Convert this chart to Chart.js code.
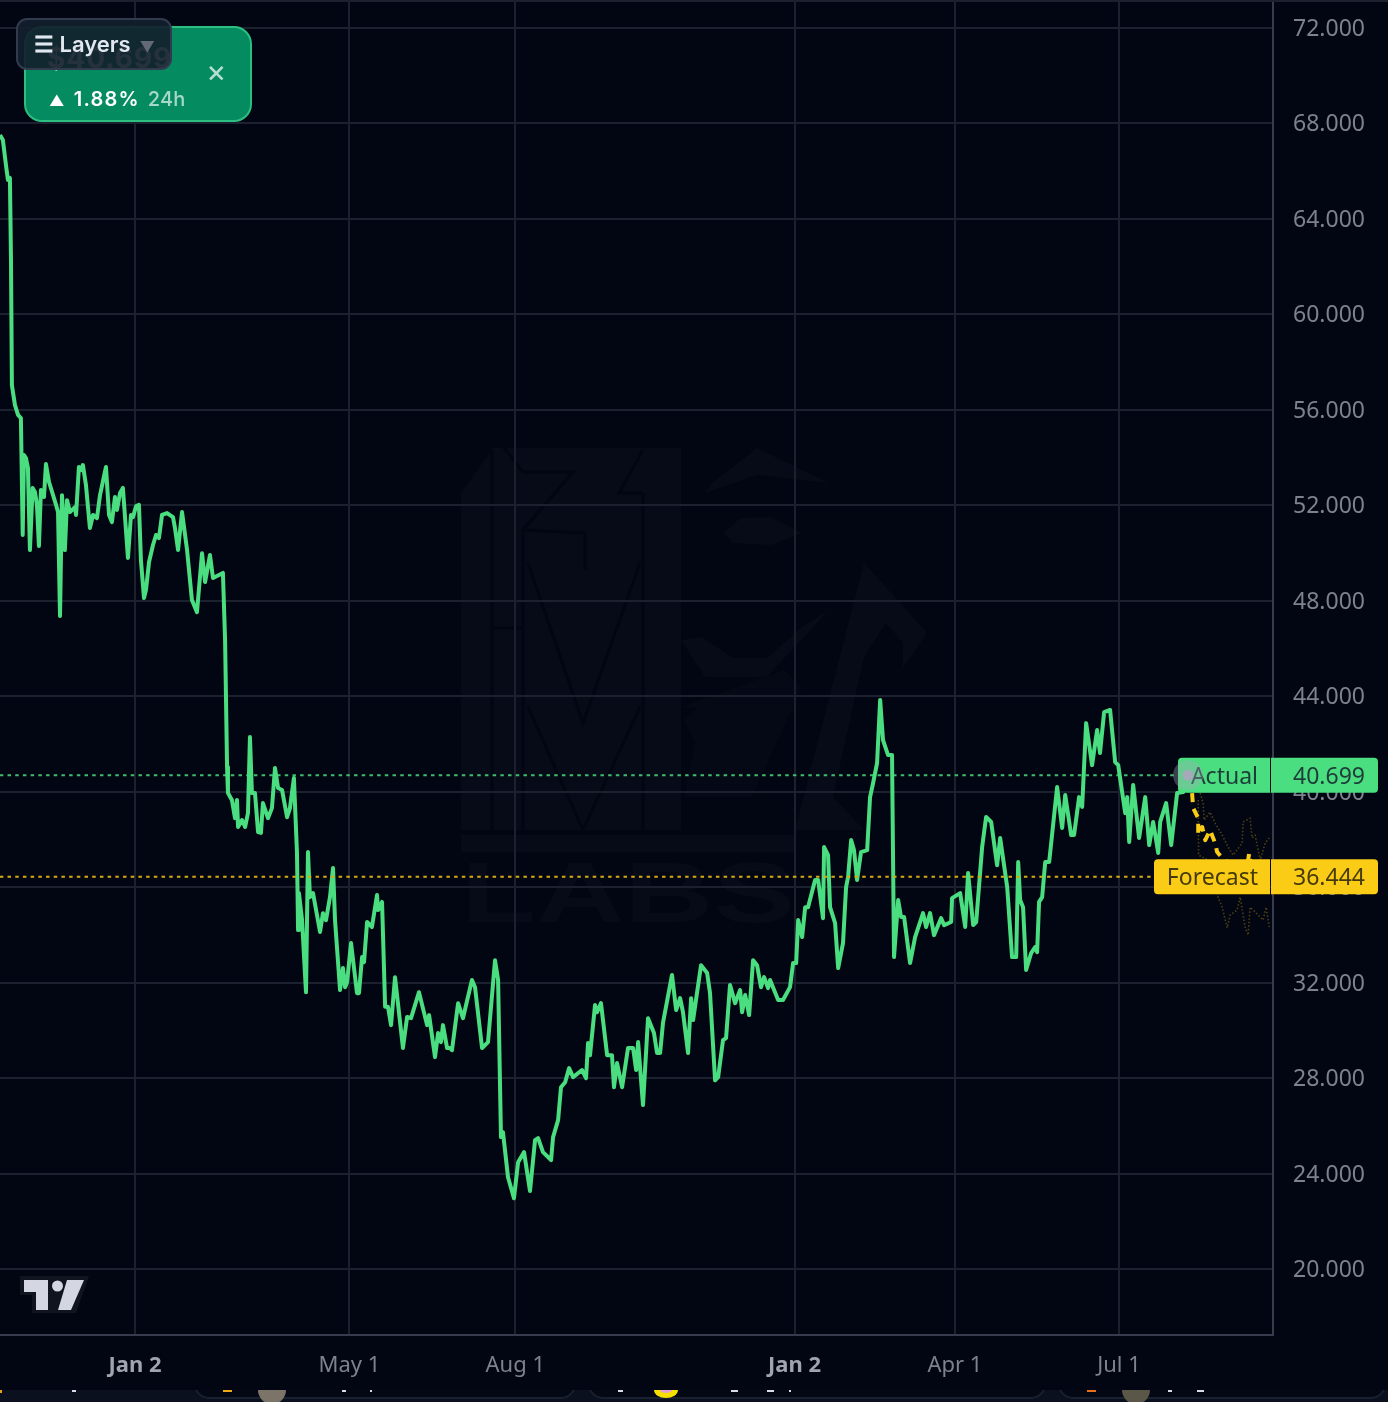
<!DOCTYPE html>
<html>
<head>
<meta charset="utf-8">
<title>Price chart</title>
<script src="https://cdn.jsdelivr.net/npm/chart.js@4/dist/chart.umd.min.js"></script>
<style>
  html, body { margin: 0; padding: 0; background: #020612; }
  body { position: relative; width: 1388px; height: 1402px; overflow: hidden; font-family: Inter, sans-serif; }
  #watermark, #bottomStrip, #tvLogo, canvas { position: absolute; left: 0; top: 0; }
  canvas { filter: blur(0.5px); }
  #topLine { position: absolute; left: 0; top: 0; width: 1388px; height: 2px; background: #1c2130; }
  #priceCard { position: absolute; left: 24px; top: 26px; width: 228px; height: 96px; box-sizing: border-box;
    background: #048c60; border: 2px solid #2dbe82; border-radius: 18px; }
  #cardPrice { position: absolute; left: 47px; top: 41px; font-size: 28px; font-weight: 700; color: #fff; letter-spacing: 1px; }
  #cardChange { position: absolute; left: 49px; top: 87px; font-size: 20px; font-weight: 600; color: #fff; letter-spacing: 1.2px; white-space: nowrap; }
  #cardChange .arrow { font-size: 15px; margin-right: 8px; }
  #cardChange .period { font-weight: 500; letter-spacing: 0.2px; color: rgba(255,255,255,.65); margin-left: 8px; }
  #cardClose { position: absolute; left: 206px; top: 54px; font-size: 31px; line-height: 34px; color: rgba(255,255,255,.72); }
  #layers { position: absolute; left: 16px; top: 18px; width: 156px; height: 52px; box-sizing: border-box;
    background: rgba(18,32,44,.92); border: 2px solid #323a4e; border-radius: 11px;
    color: #e2e8f0; font-size: 22px; font-weight: 600; line-height: 49px; padding-left: 16px; white-space: nowrap; }
  #layers .caret { color: #646978; font-size: 15px; margin-left: 5px; }
</style>
</head>
<body>
<svg id="watermark" width="1388" height="1402">
  <g fill="#070b17">
    <polygon points="461,493 493,448 681,448 681,830 461,830"/>
    <polygon points="705,493 757,475 829,483 757,448 712,483"/>
    <polygon points="681,640 702,637 733,658 767,658 802,627 829,610 767,677 705,677"/>
    <polygon points="724,533 740,518 771,517 802,533 771,545 733,543"/>
    <polygon points="864,563 886,587 927,633 903,668 903,643 886,623 864,657 833,797 864,830 795,830"/>
    <polygon fill="#050915" points="681,707 698,707 684,720 695,743 684,797 752,797 802,687 784,670"/>
    <rect x="461" y="835" width="334" height="17"/>
    <text x="461" y="922" font-family="Liberation Sans" font-weight="700" font-size="86" textLength="334" lengthAdjust="spacingAndGlyphs">LABS</text>
  </g>
  <g fill="none" stroke="#020612" stroke-width="3">
    <polyline points="504,448 523,472 573,472 523,530 585,533 585,570"/>
    <polyline points="528,563 583,723 640,563"/>
    <polyline points="528,707 583,830 640,707"/>
    <polyline points="643,493 619,493 643,450"/>
    <polyline points="492,450 492,830"/>
    <polyline points="523,530 523,830"/>
    <polyline points="643,493 643,830"/>
    <polyline points="492,628 523,628"/>
  </g>
</svg>

<canvas id="chart" width="1388" height="1402"></canvas>

<div id="topLine"></div>
<div id="priceCard"></div>
<div id="cardPrice">$40.699</div>
<div id="cardChange"><span class="arrow">▲</span>1.88%<span class="period">24h</span></div>
<div id="cardClose">×</div>
<div id="layers">☰ Layers<span class="caret"> ▼</span></div>

<svg id="tvLogo" width="100" height="1320" style="pointer-events:none">
  <polygon fill="#10141f" points="20,1276 89,1276 76,1313 32,1313 32,1295 20,1295"/>
  <g fill="#d4d7e2">
    <polygon points="24,1280 48,1280 48,1310 36,1310 36,1292 24,1292"/>
    <ellipse cx="57.5" cy="1286" rx="5.5" ry="5.5"/>
    <polygon points="67,1280 84,1280 71,1310 58,1310"/>
  </g>
</svg>

<svg id="bottomStrip" width="1388" height="1402" style="pointer-events:none">
  <defs><clipPath id="stripClip"><rect x="0" y="1390" width="1388" height="12"/></clipPath></defs>
  <g clip-path="url(#stripClip)">
    <rect x="0" y="1390" width="1388" height="12" fill="#0a101e"/>
    <g fill="#030814" stroke="#192030" stroke-width="2">
      <rect x="195" y="1370" width="380" height="28" rx="14"/>
      <rect x="589" y="1370" width="456" height="28" rx="14"/>
      <rect x="1059" y="1370" width="326" height="28" rx="14"/>
    </g>
    <g fill="#d8dce6">
      <rect x="72" y="1390" width="4" height="2"/>
      <rect x="342" y="1390" width="4" height="2"/>
      <rect x="370" y="1390" width="2" height="2"/>
      <rect x="618" y="1390" width="5" height="2"/>
      <rect x="731" y="1390" width="7" height="2"/>
      <rect x="767" y="1390" width="7" height="2"/>
      <rect x="789" y="1390" width="2" height="2"/>
      <rect x="1168" y="1390" width="4" height="2"/>
      <rect x="1197" y="1390" width="7" height="2"/>
    </g>
    <rect x="0" y="1390" width="2" height="3" fill="#e8a310"/>
    <rect x="223" y="1390" width="9" height="2" fill="#f0a818"/>
    <rect x="1087" y="1390" width="9" height="2" fill="#e8701a"/>
    <path d="M258,1390 a14,14 0 0 0 28,0 z" fill="#7c7468"/>
    <path d="M1122,1390 a14,14 0 0 0 28,0 z" fill="#5a5648"/>
    <path d="M654,1390 a12,8 0 0 0 24,0 z" fill="#f5e000"/>
    <path d="M660,1390 a6,3 0 0 0 12,0 z" fill="#e8a0d0"/>
  </g>
</svg>

<script>
// Prices and dates. x is days after the first Jan 2 tick
const priceTicks = [20, 24, 28, 32, 36, 40, 44, 48, 52, 56, 60, 64, 68, 72];
const dateTickDays = [0, 119, 211, 366, 455, 546];
const dateTickLabels = ["Jan 2", "May 1", "Aug 1", "Jan 2", "Apr 1", "Jul 1"];

const actualDays = [
  -74.9, -73.3, -71.6, -70.5, -69.4, -68.8, -68.3, -66.6, -64.9, -63.3,
  -62.3, -61.6, -60.5, -59.4, -58.3, -56.8, -55.5, -54.4, -53.3, -52.2,
  -50.5, -49.4, -47.7, -43.8, -42.7, -41.6, -40.5, -38.9, -37.7, -36.1,
  -33.3, -32.7, -31.1, -30.0, -28.9, -27.2, -25.0, -23.3, -21.1, -19.4,
  -16.1, -14.4, -12.8, -11.1, -10.0, -8.3, -6.7, -3.9, -2.2, -1.1,
  0.6, 2.2, 3.3, 5.0, 6.1, 7.8, 10.0, 11.7, 13.3, 15.0,
  17.8, 21.1, 22.2, 23.9, 26.1, 28.9, 31.6, 34.4, 37.2, 38.9,
  41.6, 43.3, 48.8, 50.0, 51.1, 51.6, 53.8, 55.5, 56.6, 57.2,
  59.4, 61.1, 62.7, 63.8, 64.9, 66.6, 68.3, 69.9, 71.0, 73.8,
  76.0, 77.7, 79.4, 81.6, 84.4, 86.0, 88.2, 89.9, 90.5, 91.0,
  92.7, 94.9, 96.0, 97.1, 98.8, 102.7, 104.3, 106.0, 108.2, 109.9,
  111.0, 113.8, 115.4, 116.6, 117.7, 119.9, 123.2, 124.3, 126.0, 127.1,
  128.8, 131.5, 134.3, 134.9, 137.1, 138.8, 140.4, 142.1, 144.3, 148.7,
  151.0, 153.2, 157.6, 162.1, 163.2, 166.5, 168.2, 169.8, 170.9, 173.2,
  174.8, 175.9, 179.3, 182.0, 187.0, 188.7, 192.6, 195.9, 199.8, 201.5,
  203.1, 204.2, 207.0, 210.3, 212.6, 215.9, 219.2, 222.0, 223.7, 226.4,
  230.9, 232.0, 234.8, 236.4, 238.7, 240.9, 243.1, 248.1, 250.3, 251.4,
  252.5, 255.3, 256.4, 258.6, 262.0, 264.7, 265.8, 267.5, 270.3, 273.6,
  276.4, 278.1, 279.2, 281.9, 284.7, 288.0, 289.7, 291.4, 293.0, 298.0,
  300.3, 302.5, 304.1, 306.9, 308.6, 309.7, 314.1, 317.5, 319.1, 321.9,
  323.6, 326.3, 328.0, 330.2, 333.0, 335.8, 336.9, 338.6, 340.8, 343.0,
  345.2, 347.4, 349.1, 351.3, 352.4, 356.9, 359.6, 363.5, 365.2, 366.9,
  368.0, 370.2, 371.9, 373.5, 377.4, 379.1, 381.8, 382.4, 384.6, 385.7,
  388.5, 390.2, 392.9, 394.6, 395.7, 397.4, 399.0, 400.7, 402.9, 406.3,
  407.9, 409.6, 411.8, 413.5, 415.1, 417.9, 420.1, 421.2, 423.5, 425.1,
  426.8, 430.1, 432.9, 437.3, 439.0, 441.2, 443.4, 447.3, 449.0, 452.9,
  453.4, 457.9, 460.7, 462.3, 465.1, 466.8, 470.1, 472.3, 475.1, 478.4,
  480.1, 484.0, 486.7, 489.0, 490.1, 491.2, 492.8, 494.5, 497.3, 499.5,
  500.6, 501.7, 503.4, 505.1, 507.3, 511.7, 514.5, 516.2, 519.5, 521.1,
  523.9, 525.6, 527.8, 531.1, 533.9, 535.5, 537.8, 541.1, 543.9, 545.6,
  549.5, 550.6, 551.7, 553.9, 557.2, 560.6, 562.8, 565.0, 567.8, 568.9,
  572.2, 575.0, 578.3, 581.6, 584.4
];
const actualPrices = [
  67.52, 67.31, 66.26, 65.63, 65.72, 62.28, 57.04, 56.20, 55.79, 55.66,
  50.76, 54.11, 53.98, 53.57, 50.13, 52.73, 52.56, 52.02, 50.30, 52.64,
  52.35, 53.73, 52.98, 52.02, 51.72, 47.37, 52.43, 50.13, 52.22, 51.72,
  51.93, 51.60, 53.61, 53.48, 53.69, 52.85, 51.05, 51.60, 51.47, 52.43,
  53.61, 51.60, 51.30, 52.35, 51.81, 52.52, 52.73, 49.80, 51.60, 51.51,
  51.97, 52.02, 49.71, 48.12, 48.46, 49.63, 50.34, 50.76, 50.63, 51.60,
  51.68, 51.51, 51.05, 50.13, 51.72, 50.13, 48.04, 47.53, 50.00, 48.79,
  49.92, 48.96, 49.17, 46.36, 41.04, 39.95, 39.66, 38.90, 39.66, 38.53,
  38.82, 38.53, 39.11, 42.30, 39.95, 39.95, 38.32, 38.28, 39.53, 38.90,
  39.32, 41.00, 40.16, 40.08, 38.94, 39.32, 40.58, 37.44, 34.21, 35.76,
  34.63, 31.61, 37.48, 35.59, 35.76, 34.13, 34.92, 34.63, 35.59, 36.81,
  34.63, 31.70, 32.62, 31.82, 32.03, 33.67, 31.57, 31.57, 33.08, 32.87,
  34.55, 34.34, 35.68, 35.05, 35.39, 31.00, 31.00, 30.23, 32.24, 29.27,
  30.57, 30.52, 31.61, 30.23, 30.65, 28.89, 29.90, 29.52, 30.23, 29.27,
  29.27, 29.18, 31.15, 30.52, 32.12, 31.82, 29.27, 29.52, 32.95, 32.12,
  25.54, 25.75, 23.86, 22.98, 24.49, 24.91, 23.28, 25.41, 25.50, 24.91,
  24.58, 25.54, 26.25, 27.63, 27.84, 28.43, 28.05, 28.35, 28.01, 29.48,
  28.97, 31.07, 30.77, 31.15, 28.97, 28.97, 27.63, 28.64, 27.63, 29.27,
  29.27, 28.35, 29.52, 26.88, 30.52, 29.90, 29.06, 29.06, 30.32, 32.33,
  30.86, 31.36, 30.77, 29.06, 31.36, 30.44, 32.74, 32.41, 31.57, 27.92,
  28.05, 29.60, 29.69, 31.91, 31.15, 31.70, 30.77, 31.49, 30.65, 32.95,
  32.74, 31.82, 32.24, 31.78, 32.12, 31.28, 31.28, 31.82, 32.83, 32.83,
  34.63, 33.92, 35.17, 35.17, 36.31, 36.31, 34.71, 37.69, 37.35, 35.17,
  34.50, 32.62, 33.67, 36.01, 36.43, 37.98, 37.56, 36.31, 37.48, 37.56,
  39.78, 40.37, 41.21, 43.85, 42.17, 41.54, 41.54, 33.08, 35.47, 34.76,
  34.76, 32.83, 33.92, 34.92, 34.34, 34.92, 34.00, 34.71, 34.42, 34.55,
  35.55, 35.76, 34.34, 36.60, 34.42, 34.55, 37.69, 38.95, 38.74, 36.93,
  38.07, 36.01, 33.08, 33.08, 37.06, 35.47, 35.17, 32.54, 33.25, 33.50,
  33.29, 35.39, 35.59, 37.06, 37.06, 40.20, 38.49, 39.87, 38.19, 38.19,
  39.78, 39.37, 42.88, 41.12, 42.59, 41.63, 43.34, 43.43, 41.25, 41.12,
  39.11, 39.78, 37.90, 40.29, 38.07, 39.78, 37.77, 38.74, 37.44, 38.74,
  39.53, 37.77, 39.95, 39.99, 40.70
];

const forecastDays = [586.6, 587.2, 590.0, 590.0, 592.2, 593.9, 596.6, 599.4, 600.5, 603.3, 605.0, 610.5, 616.0, 618.3, 620.5, 625.5, 629.4];
const forecastPrices = [39.95, 39.32, 38.90, 38.19, 38.53, 37.98, 38.40, 37.85, 37.48, 37.23, 37.19, 36.39, 36.31, 37.44, 36.39, 36.31, 36.44];

// two of the faint dotted forecast runs behind the thick one
const upperRunDays = [591.1, 592.7, 593.3, 596.6, 599.4, 603.3, 606.6, 609.4, 614.4, 614.9, 618.8, 619.9, 621.6, 624.4, 627.2, 629.4];
const upperRunPrices = [39.95, 39.53, 38.82, 39.15, 38.69, 38.19, 37.69, 37.35, 37.86, 38.74, 38.90, 38.07, 38.19, 37.14, 37.86, 38.07];
const lowerRunDays = [590.0, 590.2, 597.7, 601.0, 603.3, 606.1, 607.7, 611.6, 613.3, 616.0, 617.7, 618.8, 621.6, 626.0, 627.7, 629.4];
const lowerRunPrices = [39.66, 37.35, 37.06, 35.59, 35.17, 34.30, 34.84, 35.05, 35.59, 34.34, 34.00, 35.17, 34.97, 34.63, 35.17, 34.34];

const actualPrice = 40.699;
const forecastPrice = 36.444;
const actualLineDays = [-75, 579];
const forecastLineDays = [-75, 566];

const GREEN = "rgb(74,222,128)";
const YELLOW = "rgb(250,204,21)";
const GRID = "#1c2130";
const AXIS_LINE = "#363c4e";
const TICK_TEXT = "#7d828c";
const TICK_FONT = "'Noto Sans', sans-serif";

function toPoints(days, prices) {
  return days.map((d, i) => ({ x: d, y: prices[i] }));
}

function roundedBox(ctx, x, y, w, h, radii, fill) {
  ctx.fillStyle = fill;
  ctx.beginPath();
  ctx.roundRect(x, y, w, h, radii);
  ctx.fill();
}

// Price tags on the axis, then the pulsing dot on the last actual price
const priceTags = {
  id: "priceTags",
  afterDraw(chart) {
    const { ctx, scales } = chart;
    const tags = [
      { text: "Actual", value: actualPrice, left: 1178, fill: GREEN, ink: "#1e3c38" },
      { text: "Forecast", value: forecastPrice, left: 1154, fill: YELLOW, ink: "#463a0a" },
    ];
    ctx.save();
    ctx.font = "23px " + TICK_FONT;
    ctx.textBaseline = "middle";
    ctx.textAlign = "right";
    tags.forEach((tag) => {
      const y = scales.y.getPixelForValue(tag.value);
      roundedBox(ctx, tag.left, y - 17.5, 1270 - tag.left, 35, [4, 0, 0, 4], tag.fill);
      roundedBox(ctx, 1271, y - 17.5, 107, 35, [0, 4, 4, 0], tag.fill);
      ctx.fillStyle = tag.ink;
      ctx.fillText(tag.text, 1258, y + 2);
      ctx.fillText(tag.value.toFixed(3), 1365, y + 2);
    });
    const last = chart.getDatasetMeta(0).data[actualDays.length - 1];
    ctx.fillStyle = "rgba(165,170,185,0.35)";
    ctx.beginPath();
    ctx.arc(last.x, last.y, 15, 0, Math.PI * 2);
    ctx.fill();
    ctx.fillStyle = "rgb(165,170,185)";
    ctx.beginPath();
    ctx.arc(last.x, last.y, 5.5, 0, Math.PI * 2);
    ctx.fill();
    ctx.restore();
  },
};

new Chart(document.getElementById("chart").getContext("2d"), {
  type: "line",
  data: {
    datasets: [
      { label: "Actual", data: toPoints(actualDays, actualPrices), borderColor: GREEN, borderWidth: 4, order: 3 },
      { label: "Forecast", data: toPoints(forecastDays, forecastPrices), borderColor: YELLOW, borderWidth: 4, borderDash: [9, 7], order: 4 },
      { label: "Run 1", data: toPoints(upperRunDays, upperRunPrices), borderColor: "rgba(200,160,20,0.38)", borderWidth: 1.6, borderDash: [1.5, 2], order: 6 },
      { label: "Run 2", data: toPoints(lowerRunDays, lowerRunPrices), borderColor: "rgba(200,160,20,0.38)", borderWidth: 1.6, borderDash: [1.5, 2], order: 6 },
      { label: "Actual level", data: actualLineDays.map((d) => ({ x: d, y: actualPrice })), borderColor: "rgb(62,190,110)", borderWidth: 2, borderDash: [3.5, 4.2], order: 5 },
      { label: "Forecast level", data: forecastLineDays.map((d) => ({ x: d, y: forecastPrice })), borderColor: "rgb(214,170,18)", borderWidth: 2, borderDash: [3.5, 4.2], order: 1 },
    ],
  },
  options: {
    responsive: false,
    animation: false,
    devicePixelRatio: 1,
    layout: { padding: { left: 0, right: 0, top: 0, bottom: 14 } },
    elements: {
      point: { radius: 0, hoverRadius: 0 },
      line: { tension: 0, borderJoinStyle: "round", borderCapStyle: "butt" },
    },
    plugins: { legend: { display: false }, tooltip: { enabled: false } },
    scales: {
      x: {
        type: "linear",
        min: -74.9,
        max: 631.5,
        afterBuildTicks(scale) {
          scale.ticks = dateTickDays.map((d) => ({ value: d }));
        },
        afterFit(scale) {
          scale.height = 53;
        },
        grid: { color: GRID, lineWidth: 2, drawTicks: false },
        border: { color: AXIS_LINE, width: 2 },
        ticks: {
          autoSkip: false,
          maxRotation: 0,
          padding: 18,
          color: (c) => (dateTickLabels[c.index] === "Jan 2" ? "#a0a4ae" : TICK_TEXT),
          font: (c) => ({
            family: TICK_FONT,
            size: 22,
            weight: dateTickLabels[c.index] === "Jan 2" ? "bold" : "normal",
          }),
          callback: (value, index) => dateTickLabels[index],
        },
      },
      y: {
        type: "linear",
        position: "right",
        min: 17.25,
        max: 73.17,
        afterBuildTicks(scale) {
          scale.ticks = priceTicks.map((p) => ({ value: p }));
        },
        afterFit(scale) {
          scale.width = 115;
          scale.paddingTop = 0;
          scale.paddingBottom = 0;
        },
        grid: { color: GRID, lineWidth: 2, drawTicks: false },
        border: { color: AXIS_LINE, width: 2 },
        ticks: {
          padding: 20,
          labelOffset: 1.5,
          color: TICK_TEXT,
          font: { family: TICK_FONT, size: 23 },
          callback: (value) => value.toFixed(3),
        },
      },
    },
  },
  plugins: [priceTags],
});
</script>
</body>
</html>
